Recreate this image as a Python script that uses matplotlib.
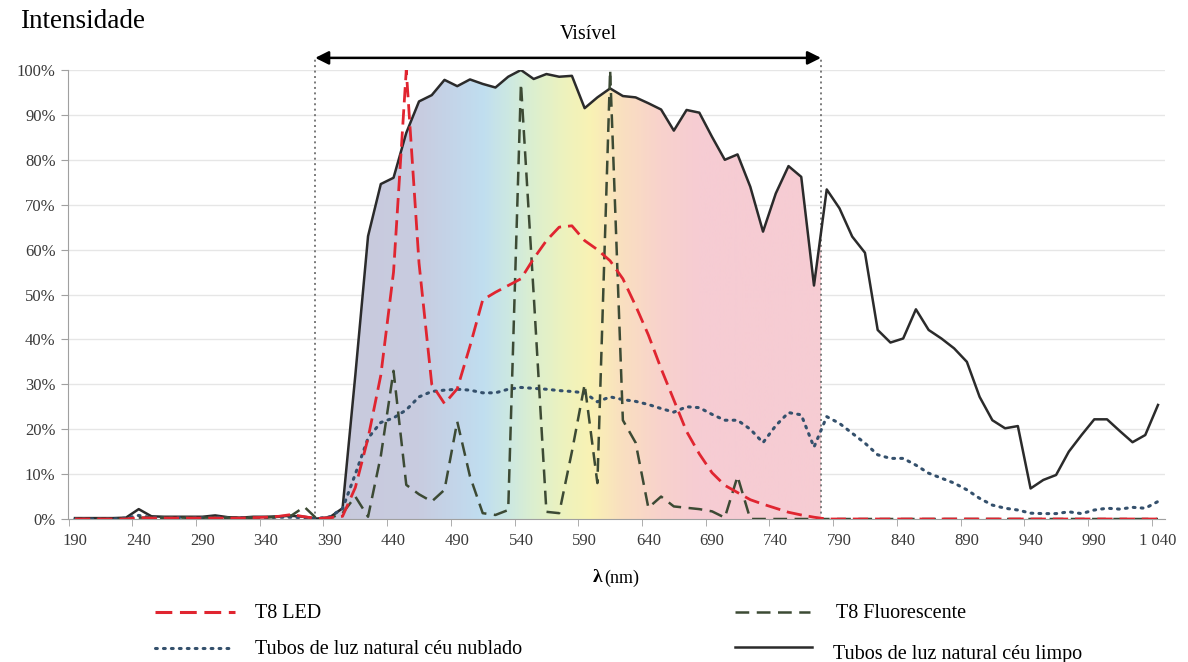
import numpy as np
import matplotlib
matplotlib.use("Agg")
import matplotlib.pyplot as plt
from matplotlib.colors import LinearSegmentedColormap
from matplotlib.lines import Line2D
from matplotlib.patches import Polygon

plt.rcParams["font.family"] = ["Liberation Serif", "DejaVu Serif"]

# --- data (% of max, 10 nm steps) ---
wavelength = np.arange(190, 1041, 10)

clear_sky = [
    0.2, 0.2, 0.2, 0.2, 0.3, 2.2, 0.6, 0.5, 0.5, 0.5,          # 190-280
    0.5, 0.8, 0.4, 0.3, 0.5, 0.5, 0.6, 0.7, 0.5, 0.1,          # 290-380
    0.4, 2.4, 32, 63, 74.6, 76, 86, 93, 94.4, 97.8,            # 390-480
    96.4, 97.9, 96.9, 96.1, 98.5, 100, 98, 99.1, 98.5, 98.7,   # 490-580
    91.5, 93.9, 95.9, 94.2, 93.9, 92.6, 91.2, 86.5, 91.1, 90.5,  # 590-680
    85.1, 80, 81.2, 74, 64, 72.5, 78.6, 76.2, 52, 73.4,        # 690-780
    69.2, 62.9, 59.3, 42.1, 39.3, 40.2, 46.7, 42.1, 40.2, 38,  # 790-880
    35, 27.2, 22, 20.2, 20.7, 6.8, 8.7, 9.8, 15, 18.7,         # 890-980
    22.2, 22.2, 19.6, 17.1, 18.7, 25.4,                        # 990-1040
]

cloudy_sky = [
    0, 0, 0, 0, 0.2, 0.8, 0.3, 0.3, 0.3, 0.3,
    0.3, 0.4, 0.3, 0.3, 0.3, 0.3, 0.4, 0.4, 0.3, 0.1,
    0.5, 2.3, 10, 18, 21.5, 22.5, 24.3, 27.2, 28.4, 28.7,
    28.9, 28.7, 28.1, 28.1, 28.9, 29.3, 29.1, 28.9, 28.6, 28.4,
    28.1, 26.1, 27.2, 26.6, 26.2, 25.5, 24.6, 23.8, 25, 24.8,
    23.3, 22, 22, 20, 17, 20.8, 23.7, 23.2, 16, 22.8,
    21.3, 19.1, 16.9, 14.3, 13.5, 13.5, 12, 10.2, 9.1, 8,
    6.5, 4.6, 3.1, 2.4, 2, 1.3, 1.2, 1.2, 1.6, 1.2,
    2, 2.4, 2.2, 2.6, 2.4, 3.9,
]

t8_led = [
    0, 0, 0, 0, 0, 0.3, 0.2, 0.2, 0.2, 0.2,
    0.2, 0.2, 0.2, 0.2, 0.3, 0.4, 0.6, 1.0, 0.5, 0.1,
    0.3, 0.6, 7, 18, 32, 55, 100, 57, 30, 25.7,
    29, 38.5, 48.8, 50.5, 52, 53.5, 58, 62, 65, 65.3,
    62, 60, 57.5, 53.5, 47.5, 41, 33.5, 26.5, 19.5, 14.5,
    10.3, 7.5, 5.9, 4.3, 3.3, 2.4, 1.5, 0.9, 0.4, 0,
    0, 0, 0, 0, 0, 0, 0, 0, 0, 0,
    0, 0, 0, 0, 0, 0, 0, 0, 0, 0,
    0, 0, 0, 0, 0, 0,
]

t8_fluo = [
    0, 0, 0, 0, 0, 0.3, 0.3, 0.3, 0.3, 0.3,
    0.3, 0.3, 0.3, 0.3, 0.3, 0.3, 0.5, 0.8, 2.7, 0,
    0.2, 1.3, 5, 0.5, 14, 33, 7.6, 5.5, 3.9, 6.5,
    21.7, 9.5, 1.3, 0.9, 2, 97, 50, 1.6, 1.3, 15,
    30, 8, 100, 22, 17, 2.5, 5, 2.8, 2.5, 2.2,
    1.7, 0.3, 9.5, 0, 0, 0, 0, 0, 0, 0,
    0, 0, 0, 0, 0, 0, 0, 0, 0, 0,
    0, 0, 0, 0, 0, 0, 0, 0, 0, 0,
    0, 0, 0, 0, 0, 0,
]

visible_range = (378.5, 775.5)
tick_labels = [str(v) for v in range(190, 1000, 50)] + ["1 040"]

# rainbow band behind the visible part of the clear-sky curve
band_nm = [378.5, 460, 490, 510, 530, 550, 575, 595, 620, 650, 680, 775.5]
band_colors = ["#c9c9db", "#c8cce0", "#c3d6ea", "#c0def0", "#cce8e2", "#dcefcf",
               "#eef3bd", "#f9f2b4", "#fadfc0", "#f8d2cc", "#f6ccd3", "#f6ccd3"]

# --- figure ---
fig = plt.figure(figsize=(11.88, 6.62), dpi=100)
ax = fig.add_axes([0.05724, 0.21601, 0.92340, 0.67825])
ax.set_xlim(184.5, 1045.5)
ax.set_ylim(0, 100)

x = wavelength.astype(float)
clear = np.array(clear_sky)

# gradient fill under the clear-sky curve, clipped to the visible band
lo, hi = visible_range
inside = (x > lo) & (x < hi)
px = np.concatenate([[lo], x[inside], [hi]])
py = np.concatenate([[np.interp(lo, x, clear)], clear[inside], [np.interp(hi, x, clear)]])
verts = np.column_stack([np.concatenate([px, [hi, lo]]), np.concatenate([py, [0, 0]])])
clip_poly = Polygon(verts, closed=True, transform=ax.transData, facecolor="none", edgecolor="none")
ax.add_patch(clip_poly)

span = hi - lo
stops = [((n - lo) / span, c) for n, c in zip(band_nm, band_colors)]
cmap = LinearSegmentedColormap.from_list("visible", stops)
grad = np.linspace(0, 1, 512).reshape(1, -1)
im = ax.imshow(grad, extent=(lo, hi, 0, 100), aspect="auto", cmap=cmap, origin="lower", zorder=1)
im.set_clip_path(clip_poly)

# grid + axes styling
ax.set_yticks(np.arange(0, 101, 10))
ax.set_yticklabels([f"{v}%" for v in range(0, 101, 10)])
ax.yaxis.grid(True, color="#e6e6e6", lw=1.0, zorder=0)
ax.set_axisbelow(True)
ax.set_xticks(range(190, 1041, 50))
ax.set_xticklabels(tick_labels)
ax.set_xticks(range(185, 1040, 50), minor=True)
ax.tick_params(axis="x", which="major", length=0, pad=10, labelsize=12, labelcolor="#3a3a3a")
ax.tick_params(axis="x", which="minor", length=5, color="#a0a0a0")
ax.tick_params(axis="y", length=5, color="#a0a0a0", labelsize=12, labelcolor="#3a3a3a", pad=4)
for side in ("top", "right"):
    ax.spines[side].set_visible(False)
for side in ("left", "bottom"):
    ax.spines[side].set_color("#a0a0a0")

# series
ax.plot(x, clear_sky, color="#2b2b2b", lw=1.8, zorder=4)
ax.plot(x, cloudy_sky, color="#34506c", lw=2.2, linestyle=(0, (0.6, 2.0)),
        dash_capstyle="round", zorder=4)
ax.plot(x, t8_fluo, color="#3c4a34", lw=1.8, linestyle=(0, (5.5, 3)), zorder=5)
ax.plot(x, t8_led, color="#e02530", lw=2.0, linestyle=(0, (5.5, 2.5)), zorder=6)

# visible band markers
top = 102.7
for v in visible_range:
    ax.plot([v, v], [0, top], color="#7a7a7a", lw=1.4, linestyle=(0, (1, 1.8)),
            clip_on=False, zorder=3)
ax.annotate("", xy=(lo, top), xytext=(hi, top), annotation_clip=False,
            arrowprops=dict(arrowstyle="<|-|>", color="black", lw=1.8,
                            mutation_scale=20, shrinkA=0, shrinkB=0))
ax.text(593, 108, "Visível", ha="center", va="center", fontsize=14.5)

fig.text(20 / 1188, 1 - 22 / 662, "Intensidade", ha="left", va="center", fontsize=19.5)
fig.text(602 / 1188, 1 - 578 / 662, "λ", ha="right", va="center", fontsize=14, weight="bold")
fig.text(604 / 1188, 1 - 578 / 662, "(nm)", ha="left", va="center", fontsize=13)

# legend drawn below the plot
legend_items = [
    ("T8 LED", dict(color="#e02530", lw=2.2, linestyle=(0, (5.5, 2.5))), (155, 235, 612), (255, 613)),
    ("Tubos de luz natural céu nublado", dict(color="#34506c", lw=2.2, linestyle=(0, (0.6, 2.0)), dash_capstyle="round"), (155, 232, 648), (255, 650)),
    ("T8 Fluorescente", dict(color="#3c4a34", lw=1.8, linestyle=(0, (5.5, 3))), (735, 810, 612), (836, 614)),
    ("Tubos de luz natural céu limpo", dict(color="#2b2b2b", lw=1.8), (735, 812, 647), (833, 654)),
]
for label, style, (x0, x1, yh), (tx, ty) in legend_items:
    fig.add_artist(Line2D([x0 / 1188, x1 / 1188], [1 - yh / 662, 1 - yh / 662],
                          transform=fig.transFigure, **style))
    fig.text(tx / 1188, 1 - ty / 662, label, ha="left", va="center", fontsize=14.5)

fig.savefig("out.png", dpi=100)
